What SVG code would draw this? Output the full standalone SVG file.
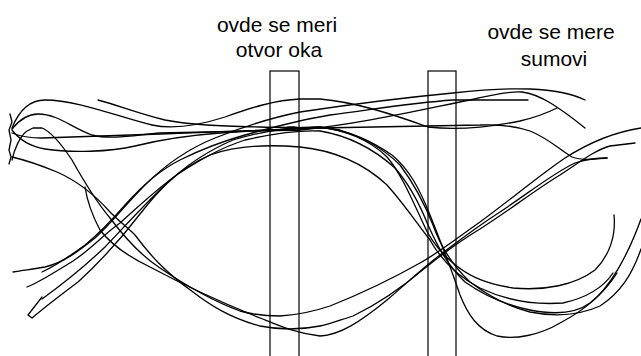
<svg xmlns="http://www.w3.org/2000/svg" width="641" height="356" viewBox="0 0 641 356">
  <style>
    .trace { fill: none; stroke: #000; stroke-width: 1.3; stroke-linejoin: round; stroke-linecap: round; }
    .window { fill: none; stroke: #000; stroke-width: 1.2; }
    .label { font-family: "Liberation Sans", Arial, sans-serif; font-size: 21px; fill: #000; text-anchor: middle; }
  </style>
  <rect width="641" height="356" fill="#fff"/>

  <!-- hand-drawn eye diagram traces -->
  <g id="connectors">
    <!-- left edge tick -->
    <path class="trace" d="M10,114 L12,122 L9,130 L11,140 L9,150 L11,157 L9,164"/>
    <!-- upper rail strokes -->
    <path class="trace" d="M12,128 C20,108 32,100 45,100 C78,100 118,117 152,125 C175,130 200,125 225,117 C250,108 275,100 300,99 L320,99 C355,102 392,114 428,127 C460,131 495,126 520,121 C537,117 549,112 557,108"/>
    <path class="trace" d="M12,129 C20,119 28,114 38,114 C58,114 72,128 92,135 C112,140 135,135 160,133 L300,130 C360,124 420,110 470,100 C495,94 510,91 522,92 C540,94 560,108 585,128"/>
    <path class="trace" d="M12,130 C18,138 28,146 45,149 C70,153 110,152 135,146 C155,141 180,136 220,133 C260,131 300,128 320,127 C345,130 370,140 387,157 C400,172 410,195 423,223 C430,240 440,252 453,263 C465,273 480,283 513,288 C545,291 575,285 595,270 C610,255 616,235 614,215"/>
    <path class="trace" d="M12,133 C22,137 30,138 42,138 L160,134 L320,128 L480,125 C500,124 515,126 530,131 C548,138 560,150 572,157 C585,162 600,158 607,158"/>
    <path class="trace" d="M98,100 C120,106 140,114 165,120 C190,125 220,126 260,127 C290,128 320,126 340,130 C365,138 385,150 400,165 C415,185 425,205 433,225 C440,245 452,265 470,282 C490,297 510,307 530,312 C555,317 580,315 600,306 C620,293 632,275 641,249"/>
    <path class="trace" d="M285,128 C290,126 298,127 301,129 C298,131 290,131 285,128 Z"/>
    <!-- falling strokes through the left crossing -->
    <path class="trace" d="M12,160 C14,150 20,136 27,131 L33,128 L42,128 C52,132 62,145 72,160 C82,178 95,200 110,218 C125,238 140,255 160,268 C185,285 210,300 240,311 C255,315 265,316 280,316 C300,315 315,311 330,306 C355,296 390,280 420,263 C440,252 460,236 480,222 C510,200 540,175 565,158 C590,142 615,132 641,128"/>
    <path class="trace" d="M12,157 C25,160 40,165 57,172 C75,180 95,195 110,212 C120,222 128,228 135,235 C150,255 165,272 193,292 C210,305 230,318 260,326 C280,330 300,330 320,326 C330,324 340,320 353,316 C380,303 405,285 425,268 C445,252 465,238 480,229 C510,210 535,190 560,175 C580,162 595,150 610,146 L635,143"/>
    <path class="trace" d="M85,187 C87,200 92,215 100,230 C110,243 125,255 150,267 C180,283 215,300 260,318 C280,326 295,333 320,336 C340,335 360,322 387,300 C405,285 420,270 440,255 C460,240 475,228 500,212 C530,192 555,172 575,163 C590,158 600,158 607,158"/>
    <!-- rising strokes through the left crossing -->
    <path class="trace" d="M42,297 L28,315 L32,318 C45,307 62,294 78,282 C100,262 120,240 140,214 C155,195 175,170 210,155 C235,146 265,144 300,147 C330,150 360,160 387,185 C405,205 418,225 430,240 C440,258 455,275 480,288 C505,300 535,305 563,303 C590,297 605,285 613,273"/>
    <path class="trace" d="M42,299 C60,286 85,266 105,247 C125,226 145,204 165,185 C185,166 205,152 233,140 C265,130 295,127 320,127 C350,131 370,140 392,155 C410,170 420,190 430,215 C440,240 450,265 460,295 C468,315 478,330 497,336 C515,340 540,335 560,323 C585,310 605,292 617,273"/>
    <path class="trace" d="M13,272 C25,270 35,269 45,267 C65,262 80,250 95,238 C110,225 125,205 145,185 C165,165 190,148 215,138 C240,128 270,118 300,112 C340,106 400,98 453,93 C480,90 503,88 530,89 C555,90 575,95 585,100"/>
    <path class="trace" d="M42,272 C55,266 70,256 85,245 C100,233 112,220 125,205 C140,188 160,170 180,160 C200,150 220,142 245,135 C270,128 300,120 330,115 C370,110 410,103 453,100 L528,100"/>
    <path class="trace" d="M27,287 C40,282 55,272 73,261 C90,250 103,235 120,223 C140,205 158,188 178,174 C200,160 220,148 245,140 C280,132 300,130 320,131 C350,136 375,150 395,168 C410,185 420,205 428,225 C437,245 447,265 465,282 C485,296 505,305 530,310 C555,315 575,314 590,303 C610,288 628,255 641,219"/>
  </g>

  <!-- measurement windows -->
  <g id="eye-opening-window">
    <rect class="window" x="270" y="71" width="29" height="300"/>
    <text class="label" x="277" y="32">ovde se meri</text>
    <text class="label" x="279" y="57">otvor oka</text>
  </g>
  <g id="noise-window">
    <rect class="window" x="428" y="71" width="28" height="300"/>
    <text class="label" x="551" y="39">ovde se mere</text>
    <text class="label" x="554" y="66">sumovi</text>
  </g>
</svg>
